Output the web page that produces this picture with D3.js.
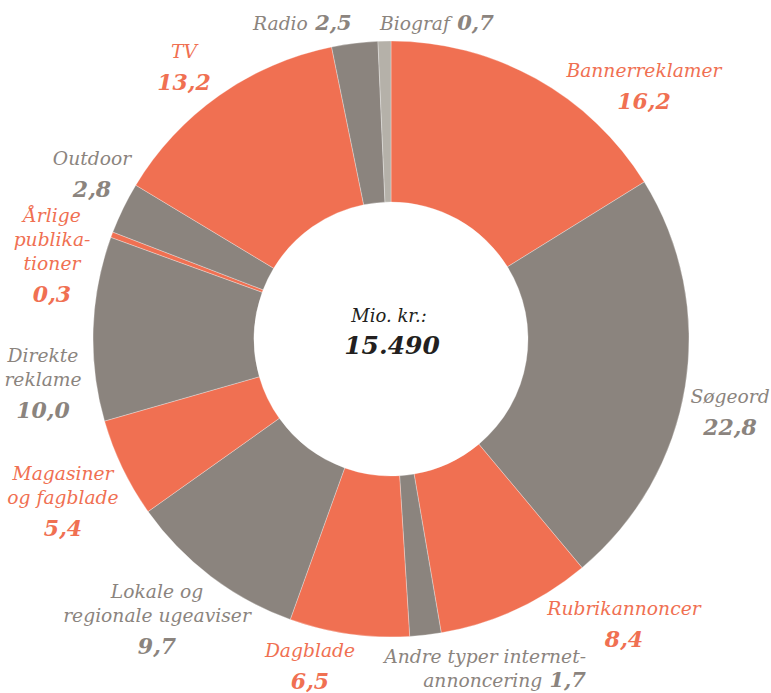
<!DOCTYPE html>
<html>
<head>
<meta charset="utf-8">
<script src="https://cdn.jsdelivr.net/npm/d3@7"></script>
<style>
  body { margin: 0; background: #fff; }
  svg { display: block; }
  text { font-family: "DejaVu Serif", serif; font-style: italic; }
</style>
</head>
<body>
<div id="chart"></div>
<script>
// Annoncemarkedet, andele i procent (mio. kr. i alt: 15.490)
const categories = [
  "Bannerreklamer", "Søgeord", "Rubrikannoncer", "Andre typer internet-annoncering",
  "Dagblade", "Lokale og regionale ugeaviser", "Magasiner og fagblade", "Direkte reklame",
  "Årlige publikationer", "Outdoor", "TV", "Radio", "Biograf"
];
const values = [16.2, 22.8, 8.4, 1.7, 6.5, 9.7, 5.4, 10.0, 0.3, 2.8, 13.2, 2.5, 0.7];
const labelLines = [
  ["Bannerreklamer"], ["Søgeord"], ["Rubrikannoncer"], ["Andre typer internet-", "annoncering"],
  ["Dagblade"], ["Lokale og", "regionale ugeaviser"], ["Magasiner", "og fagblade"], ["Direkte", "reklame"],
  ["Årlige", "publika-", "tioner"], ["Outdoor"], ["TV"], ["Radio"], ["Biograf"]
];
const groups = ["net", "other", "net", "other", "net", "other", "net", "other", "net", "other", "net", "other", "cinema"];
const centerTitle = "Mio. kr.:";
const centerTotal = "15.490";

const palette = { net: "#f07052", other: "#8b847e", cinema: "#b5b1a9" };
const textColor = { net: "#f07052", other: "#8b847e", cinema: "#8b847e" };

// label placement (x, first baseline, anchor, value inline?)
const labelLayout = [
  { x: 644, y: 77, anchor: "middle" },
  { x: 730, y: 403, anchor: "middle" },
  { x: 624, y: 615, anchor: "middle" },
  { x: 586, y: 663, anchor: "end", inline: true },
  { x: 310, y: 657, anchor: "middle" },
  { x: 157, y: 598, anchor: "middle" },
  { x: 63, y: 480, anchor: "middle" },
  { x: 43, y: 362, anchor: "middle" },
  { x: 52, y: 222, anchor: "middle" },
  { x: 92, y: 165, anchor: "middle" },
  { x: 184, y: 58, anchor: "middle" },
  { x: 253, y: 30, anchor: "start", inline: true },
  { x: 380, y: 30, anchor: "start", inline: true }
];

const width = 771, height = 693;
const cx = 391, cy = 339;
const outerR = 298, innerR = 137;
const lineH = 24, valueGap = 32;

const fmt = v => d3.format(".1f")(v).replace(".", ",");

const svg = d3.select("#chart").append("svg")
  .attr("width", width)
  .attr("height", height);

const data = categories.map((c, i) => ({ category: c, value: values[i], group: groups[i], i }));

const pie = d3.pie()
  .value(d => d.value)
  .sort(null);

const arc = d3.arc()
  .innerRadius(innerR)
  .outerRadius(outerR);

const g = svg.append("g")
  .attr("transform", `translate(${cx},${cy})`);

g.selectAll("path")
  .data(pie(data))
  .enter().append("path")
  .attr("d", arc)
  .attr("fill", d => palette[d.data.group])
  .attr("stroke", "#fff")
  .attr("stroke-opacity", 0.5)
  .attr("stroke-width", 0.6);

// Labels
data.forEach((d, i) => {
  const lay = labelLayout[i];
  const lines = labelLines[i];
  const col = textColor[d.group];
  const t = svg.append("text")
    .attr("text-anchor", lay.anchor)
    .attr("fill", col)
    .style("font-size", "18.7px");
  lines.forEach((ln, k) => {
    t.append("tspan")
      .attr("x", lay.x)
      .attr("y", lay.y + k * lineH)
      .text(ln);
    if (lay.inline && k === lines.length - 1) {
      t.append("tspan")
        .style("font-weight", "bold")
        .style("font-size", "21px")
        .text(" " + fmt(d.value));
    }
  });
  if (!lay.inline) {
    svg.append("text")
      .attr("x", lay.x)
      .attr("y", lay.y + (lines.length - 1) * lineH + valueGap)
      .attr("text-anchor", lay.anchor)
      .attr("fill", col)
      .style("font-size", "22px")
      .style("font-weight", "bold")
      .text(fmt(d.value));
  }
});

// Center total
svg.append("text")
  .attr("x", cx - 2)
  .attr("y", 322)
  .attr("text-anchor", "middle")
  .attr("fill", "#231f20")
  .style("font-size", "18px")
  .text(centerTitle);

svg.append("text")
  .attr("x", cx + 1)
  .attr("y", 354)
  .attr("text-anchor", "middle")
  .attr("fill", "#231f20")
  .style("font-size", "25px")
  .style("font-weight", "bold")
  .text(centerTotal);
</script>
</body>
</html>
